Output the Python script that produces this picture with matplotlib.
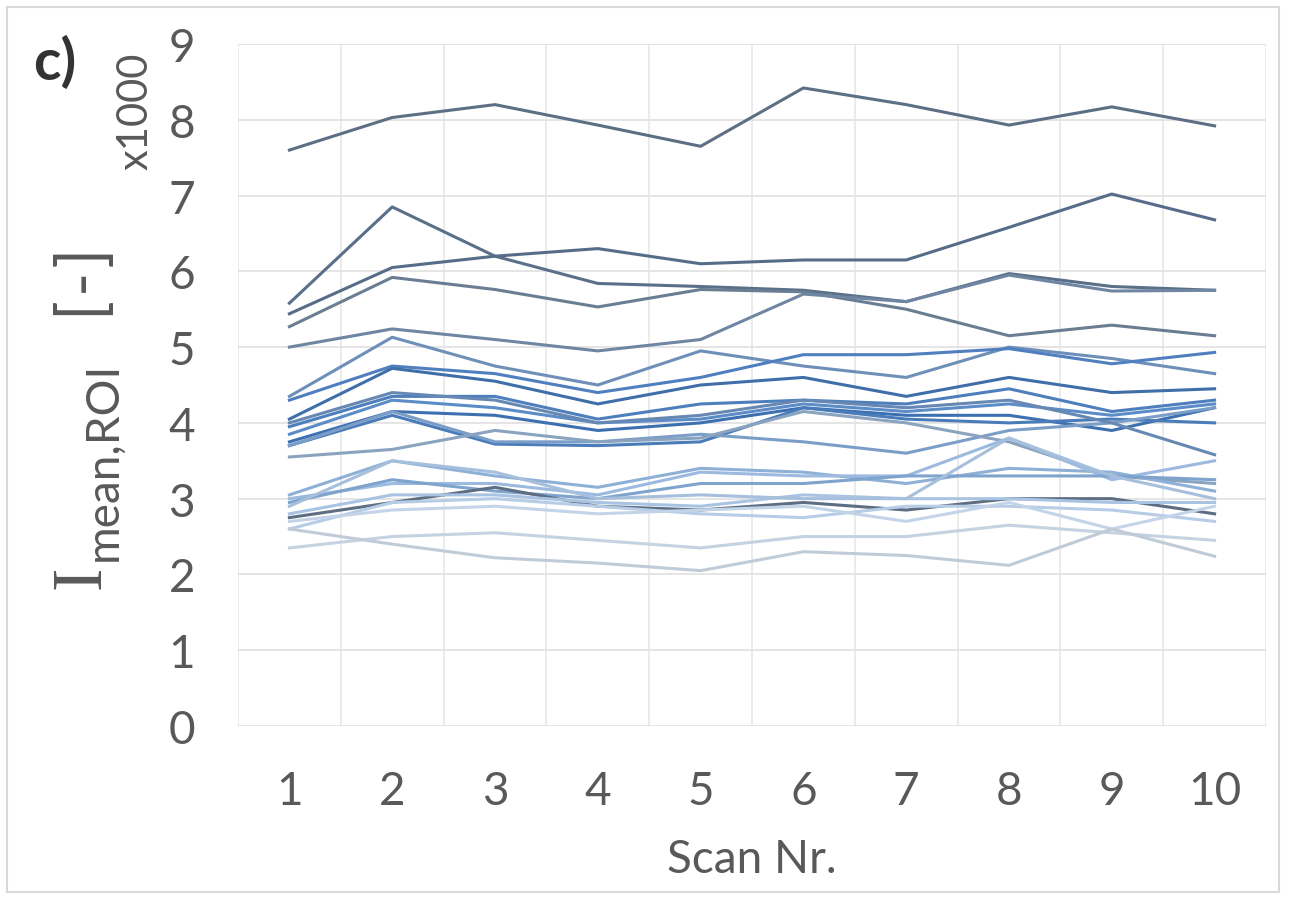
import matplotlib
matplotlib.use("Agg")
import matplotlib.pyplot as plt
from matplotlib.patches import Rectangle

# ---------------- data (values x1000) ----------------
scans = [1, 2, 3, 4, 5, 6, 7, 8, 9, 10]

s01 = [7.60, 8.03, 8.20, 7.93, 7.65, 8.42, 8.20, 7.93, 8.17, 7.92]
s02 = [5.58, 6.85, 6.20, 5.84, 5.80, 5.75, 5.60, 5.97, 5.80, 5.75]
s03 = [5.44, 6.05, 6.20, 6.30, 6.10, 6.15, 6.15, 6.58, 7.02, 6.68]
s04 = [5.27, 5.92, 5.76, 5.53, 5.76, 5.73, 5.50, 5.15, 5.29, 5.15]
s05 = [5.00, 5.24, 5.10, 4.95, 5.10, 5.70, 5.60, 5.95, 5.74, 5.75]
s06 = [4.35, 5.13, 4.75, 4.50, 4.95, 4.75, 4.60, 5.00, 4.85, 4.65]
s07 = [4.30, 4.75, 4.65, 4.40, 4.60, 4.90, 4.90, 4.98, 4.78, 4.93]
s08 = [4.05, 4.72, 4.55, 4.25, 4.50, 4.60, 4.35, 4.60, 4.40, 4.45]
s09 = [3.95, 4.35, 4.35, 4.05, 4.25, 4.30, 4.25, 4.45, 4.15, 4.30]
s10 = [3.85, 4.30, 4.20, 4.00, 4.05, 4.25, 4.15, 4.25, 4.10, 4.25]
s11 = [3.75, 4.15, 4.10, 3.90, 4.00, 4.20, 4.10, 4.10, 3.90, 4.20]
s12 = [3.70, 4.10, 3.72, 3.70, 3.75, 4.20, 4.05, 4.00, 4.05, 4.00]
s13 = [3.70, 4.15, 3.75, 3.75, 3.85, 3.75, 3.60, 3.90, 4.00, 4.20]
s14 = [3.55, 3.65, 3.90, 3.75, 3.80, 4.15, 4.00, 3.75, 3.30, 3.20]
s15 = [4.00, 4.40, 4.30, 4.00, 4.10, 4.30, 4.20, 4.30, 4.00, 3.58]
s16 = [3.05, 3.50, 3.30, 3.15, 3.40, 3.35, 3.20, 3.40, 3.35, 3.10]
s17 = [3.00, 3.20, 3.20, 3.05, 3.35, 3.30, 3.30, 3.80, 3.25, 3.50]
s18 = [2.95, 3.25, 3.10, 3.00, 3.20, 3.20, 3.30, 3.30, 3.30, 3.25]
s19 = [2.75, 2.95, 3.15, 2.90, 2.85, 2.95, 2.85, 3.00, 3.00, 2.80]
s20 = [2.80, 3.05, 3.05, 2.95, 2.90, 3.05, 3.00, 3.00, 2.95, 2.95]
s21 = [2.60, 2.95, 3.00, 2.90, 2.80, 2.75, 2.90, 2.90, 2.85, 2.70]
s22 = [2.70, 2.85, 2.90, 2.80, 2.85, 2.90, 2.70, 2.95, 2.60, 2.90]
s23 = [2.35, 2.50, 2.55, 2.45, 2.35, 2.50, 2.50, 2.65, 2.55, 2.45]
s24 = [2.60, 2.40, 2.22, 2.15, 2.05, 2.30, 2.25, 2.12, 2.60, 2.24]
s25 = [2.90, 3.50, 3.35, 3.00, 3.05, 3.00, 3.00, 3.80, 3.30, 3.00]

series = [s01, s02, s03, s04, s05, s06, s07, s08, s09, s10, s11, s12, s13,
          s14, s15, s16, s17, s18, s19, s20, s21, s22, s23, s24, s25]

colors = ["#5d6f85", "#5a6f88", "#566d89", "#6a7d92", "#6f86a3", "#6e8fb8",
          "#4f7fbf", "#3f6ea8", "#4d7fbd", "#5b8cc8", "#3c70b0", "#4a7cb9",
          "#7b9ec8", "#8aa3bf", "#6688b3", "#8fb0d6", "#9cbadf", "#7ea3cc",
          "#5d6e82", "#a9c3e2", "#b7cce6", "#c3d4e9", "#c5d2e2", "#c0cbd8",
          "#a6bfdc"]

xticks = [1, 2, 3, 4, 5, 6, 7, 8, 9, 10]
yticks = [0, 1, 2, 3, 4, 5, 6, 7, 8, 9]

plt.rcParams["font.family"] = ["Lato", "DejaVu Sans"]

W, H = 1289, 904
fig = plt.figure(figsize=(W / 100, H / 100), dpi=100)
fig.patch.set_facecolor("white")
fig.patches.append(Rectangle((7 / W, 1 - 893 / H), 1272 / W, 885 / H,
                             transform=fig.transFigure, fill=False,
                             edgecolor="#d9d9d9", linewidth=1.5))

ax = fig.add_axes([238 / W, 1 - 727 / H, 1028 / W, 682 / H])
for s, c in zip(series, colors):
    ax.plot(scans, s, color=c, linewidth=2.2, solid_joinstyle="round", zorder=3)

ax.set_xlim(0.5, 10.5)
ax.set_ylim(0, 9)
ax.set_xticks(xticks)
ax.set_yticks(yticks)
ax.set_xticks([x + 0.5 for x in [0] + xticks], minor=True)
ax.grid(axis="y", which="major", color="#e3e3e3", linewidth=1.3, zorder=0)
ax.grid(axis="x", which="minor", color="#e8e8e8", linewidth=1.2, zorder=0)
ax.grid(axis="x", which="major", visible=False)
for sp in ax.spines.values():
    sp.set_visible(False)
ax.tick_params(axis="both", which="both", length=0, labelsize=33, labelcolor="#595959")
ax.tick_params(axis="y", pad=31)
ax.tick_params(axis="x", pad=32)

ax.set_xlabel("Scan Nr.", fontsize=33, color="#595959", va="baseline")
ax.xaxis.set_label_coords(0.5, (727 - 873) / 682)

# y-axis label built from three pieces: serif "I", sans subscript, unit
lab = dict(rotation=90, rotation_mode="anchor", color="#595959",
           ha="left", va="baseline")
fig.text(100 / W, 1 - 589 / H, "I", fontsize=51, family="Liberation Serif", **lab)
fig.text(116 / W, 1 - 561 / H, "mean,ROI", fontsize=33, **lab)
fig.text(104 / W, 1 - 320 / H, "[\u200a-\u200a]", fontsize=47,
         family=["Lato", "DejaVu Sans"], **lab)

fig.text(136 / W, 1 - 111 / H, "x1000", rotation=90, fontsize=30, color="#595959",
         ha="center", va="center")
fig.text(33 / W, 1 - 80 / H, "c)", fontsize=41, fontweight="bold", color="#333333",
         ha="left", va="baseline")

fig.savefig("out.png", dpi=100, facecolor="white")
